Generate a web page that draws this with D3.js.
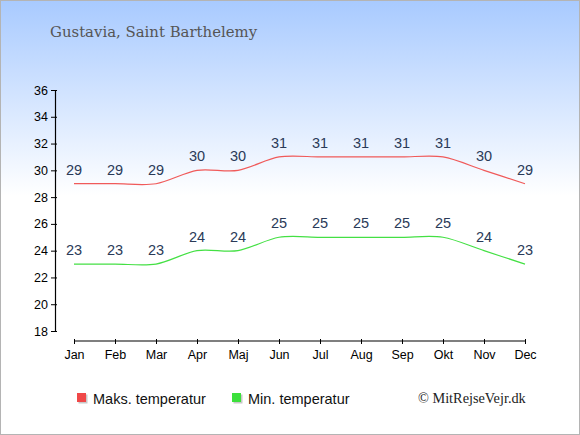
<!DOCTYPE html>
<html><head><meta charset="utf-8">
<script src="https://cdn.jsdelivr.net/npm/d3@7"></script>
<style>html,body{margin:0;padding:0;background:#fff}svg{display:block}</style>
</head><body>
<script>
const months = ["Jan","Feb","Mar","Apr","Maj","Jun","Jul","Aug","Sep","Okt","Nov","Dec"];
const maxTemp = [29,29,29,30,30,31,31,31,31,31,30,29];
const minTemp = [23,23,23,24,24,25,25,25,25,25,24,23];
const yTicks = [18,20,22,24,26,28,30,32,34,36];
const title = "Gustavia, Saint Barthelemy";
const legendLabels = ["Maks. temperatur","Min. temperatur"];
const credit = "© MitRejseVejr.dk";

const W=580,H=435;
const svg=d3.select("body").append("svg").attr("width",W).attr("height",H);
const defs=svg.append("defs");
const g=defs.append("linearGradient").attr("id","bg").attr("x1",0).attr("y1",0).attr("x2",0).attr("y2",1);
g.append("stop").attr("offset","0%").attr("stop-color","#a8caff");
g.append("stop").attr("offset","45%").attr("stop-color","#ffffff");
g.append("stop").attr("offset","100%").attr("stop-color","#ffffff");
svg.append("rect").attr("x",0.5).attr("y",0.5).attr("width",W-1).attr("height",H-1)
  .attr("fill","url(#bg)").attr("stroke","#b4b4b4").attr("stroke-width",1);

svg.append("text").attr("x",50).attr("y",37).text(title)
  .attr("font-family","'DejaVu Serif','Liberation Serif',serif").attr("font-size",14.9).attr("fill","#555");

const x=d3.scalePoint().domain(months).range([74,525]);
const y=d3.scaleLinear().domain([18,36]).range([331,90]);

// y axis
const ya=svg.append("g").attr("transform","translate(55,0)")
  .call(d3.axisLeft(y).tickValues(yTicks).tickSize(4).tickSizeOuter(0));
ya.select(".domain").attr("stroke","#000");
ya.selectAll(".tick line").attr("x2",2).attr("x1",-4).attr("stroke","#000");
ya.selectAll("text").attr("font-family","'Liberation Sans',Arial,sans-serif").attr("font-size",12.5).attr("fill","#000").attr("x",-7);

// x axis
const xa=svg.append("g").attr("transform","translate(0,341)")
  .call(d3.axisBottom(x).tickSize(4).tickSizeOuter(0));
xa.select(".domain").attr("d","M74,0H525").attr("stroke","#000");
xa.selectAll(".tick line").attr("y1",-2).attr("y2",3).attr("stroke","#000");
xa.selectAll("text").attr("font-family","'Liberation Sans',Arial,sans-serif").attr("font-size",12.5).attr("fill","#000").attr("y",9);
svg.selectAll(".domain").attr("stroke-width",1.2);

const line=d3.line().x((d,i)=>x(months[i])).y(d=>y(d)).curve(d3.curveCardinal.tension(0.1));
const series=[{v:maxTemp,c:"#f05a5a"},{v:minTemp,c:"#44e044"}];
series.forEach(s=>{
  svg.append("path").attr("d",line(s.v)).attr("fill","none").attr("stroke",s.c).attr("stroke-width",1.2);
  svg.selectAll(null).data(s.v).enter().append("text")
    .attr("x",(d,i)=>x(months[i])).attr("y",d=>y(d)-9)
    .attr("text-anchor","middle").text(d=>d)
    .attr("font-family","'Liberation Sans',Arial,sans-serif").attr("font-size",14.5).attr("fill","#2a3a58");
});

// legend
const legX=[77,232], legC=["#f04848","#3ce03c"];
legendLabels.forEach((t,i)=>{
  svg.append("rect").attr("x",legX[i]+1.5).attr("y",394.5).attr("width",9).attr("height",9).attr("fill","#c8c8c8");
  svg.append("rect").attr("x",legX[i]).attr("y",393).attr("width",9).attr("height",9).attr("fill",legC[i]);
  svg.append("text").attr("x",legX[i]+16).attr("y",404).text(t)
    .attr("font-family","'Liberation Sans',Arial,sans-serif").attr("font-size",14.5).attr("fill","#111");
});
svg.append("text").attr("x",418).attr("y",403).text(credit)
  .attr("font-family","'Liberation Serif','DejaVu Serif',serif").attr("font-size",14.3).attr("fill","#222");
</script>
</body></html>
